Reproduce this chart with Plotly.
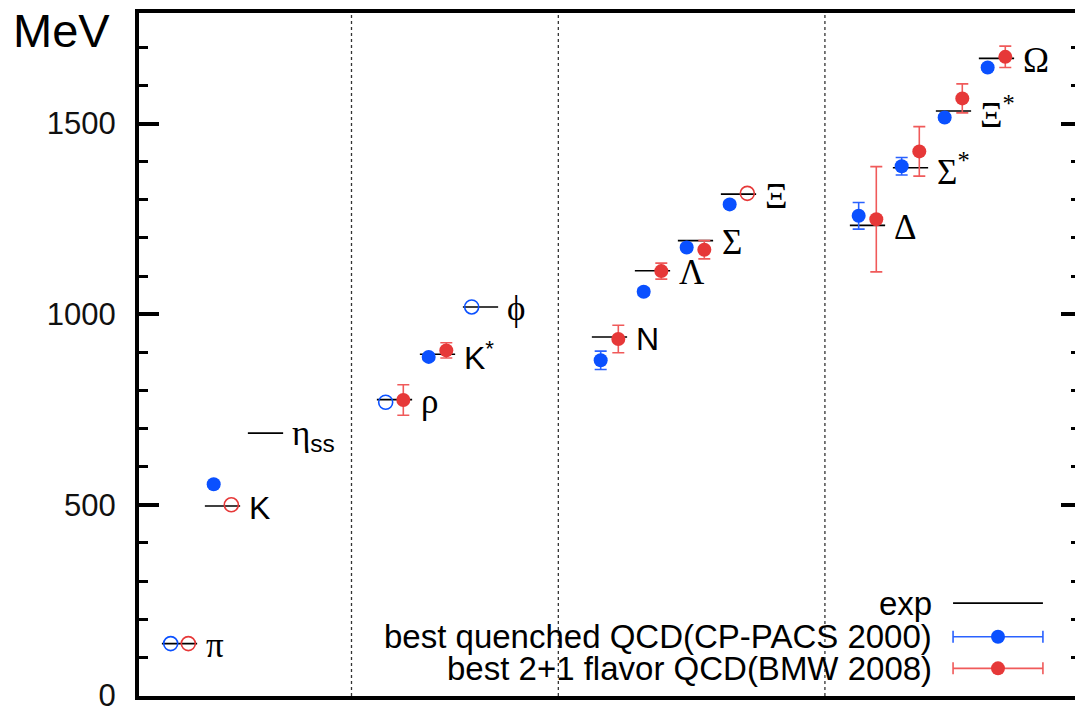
import plotly.graph_objects as go

# ---------------- data ----------------
labels = ["π", "K", "η<span style=\"font-family:'Liberation Sans'\"><sub>ss</sub></span>", "ρ",
          "K<sup>*</sup>", "ϕ", "N", "Λ", "Σ", "Ξ", "Δ", "Σ<sup>*</sup>", "Ξ<sup>*</sup>", "Ω"]
label_serif = [True, False, True, True, False, True, False, True, True, True, True, True, True, True]

exp_mass = [136, 497, 688, 776, 895, 1019, 940, 1114, 1193, 1315, 1233, 1384, 1533, 1671]

quenched_mass = [136, 554, None, 769, 888, 1019, 879, 1059, 1175, 1288, 1258, 1388, 1516, 1647]
quenched_err = [0, 7, None, 0, 7, 0, 24, 9, 8, 8, 35, 23, 7, 7]
quenched_input = [True, False, None, True, False, True, False, False, False, False, False, False, False, False]

bmw_mass = [136, 500, None, 775, 905, None, 935, 1113, 1169, 1317, 1249, 1427, 1566, 1675]
bmw_err = [0, 0, None, 40, 20, None, 36, 21, 24, 0, 138, 65, 38, 28]
bmw_input = [True, True, None, False, False, None, False, False, False, True, False, False, False, False]

legend_names = ["exp", "best quenched QCD(CP-PACS 2000)", "best 2+1 flavor QCD(BMW 2008)"]

tick_vals = [0, 500, 1000, 1500]
tick_text = ["0", "500", "1000", "1500"]

# ---------------- layout helpers ----------------
slots = [0, 1, 2, 5, 6, 7, 10, 11, 12, 13, 16, 17, 18, 19]
dividers = [4.0, 8.81, 15.01]
BLUE = "#0a50ff"
BLUE_ERR = "#2a62ff"
RED = "#e63838"
RED_ERR = "#f05a5a"
SANS = "Liberation Sans, Arial, sans-serif"
SERIF = "Liberation Serif, Times New Roman, serif"
HALF = 0.41
OFF = 0.205

fig = go.Figure()

# experimental lines
ex, ey = [], []
for s, m in zip(slots, exp_mass):
    ex += [s - HALF, s + HALF, None]
    ey += [m, m, None]
fig.add_trace(go.Scatter(x=ex, y=ey, mode="lines", line=dict(color="black", width=1.6),
                         hoverinfo="skip", showlegend=False))


def add_series(masses, errs, inputs, dx, color, ecolor):
    fx, fy, fe, ox, oy = [], [], [], [], []
    for s, m, e, inp in zip(slots, masses, errs, inputs):
        if m is None:
            continue
        if inp:
            ox.append(s + dx)
            oy.append(m)
        else:
            fx.append(s + dx)
            fy.append(m)
            fe.append(e)
    fig.add_trace(go.Scatter(
        x=fx, y=fy, mode="markers",
        marker=dict(symbol="circle", size=14, color=color, line=dict(width=0)),
        error_y=dict(type="data", array=fe, visible=True, color=ecolor, thickness=1.6, width=6),
        showlegend=False, hoverinfo="skip"))
    fig.add_trace(go.Scatter(
        x=ox, y=oy, mode="markers",
        marker=dict(symbol="circle-open", size=14, color=color, line=dict(width=1.6, color=color)),
        showlegend=False, hoverinfo="skip"))


add_series(quenched_mass, quenched_err, quenched_input, -OFF, BLUE, BLUE_ERR)
add_series(bmw_mass, bmw_err, bmw_input, OFF, RED, RED_ERR)

# particle labels
for s, m, lab, serif in zip(slots, exp_mass, labels, label_serif):
    fig.add_annotation(x=s + 0.56, y=m, xref="x", yref="y", text=lab, showarrow=False,
                       xanchor="left", yanchor="middle", yshift=-2,
                       font=dict(family=SERIF if serif else SANS, size=35 if serif else 32,
                                 color="black"))

# dividers
for d in dividers:
    fig.add_shape(type="line", xref="x", yref="paper", x0=d, x1=d, y0=0, y1=1,
                  line=dict(color="#333333", width=1.3, dash="dot"))

# manual legend (text left, sample right)
leg_y = [242, 154, 71]
leg_x0, leg_x1 = 17.99, 20.08
leg_c = (leg_x0 + leg_x1) / 2
for name, yy in zip(legend_names, leg_y):
    fig.add_annotation(x=17.55, y=yy, xref="x", yref="y", text=name, showarrow=False,
                       xanchor="right", yanchor="middle",
                       font=dict(family=SANS, size=33, color="black"))
fig.add_trace(go.Scatter(x=[leg_x0, leg_x1], y=[leg_y[0], leg_y[0]], mode="lines",
                         line=dict(color="black", width=1.6), showlegend=False, hoverinfo="skip"))
for yy, c, ec in [(leg_y[1], BLUE, BLUE_ERR), (leg_y[2], RED, RED_ERR)]:
    fig.add_trace(go.Scatter(x=[leg_c], y=[yy], mode="markers",
                             marker=dict(size=14, color=c),
                             error_x=dict(type="data", array=[leg_c - leg_x0], color=ec,
                                          thickness=1.6, width=6),
                             showlegend=False, hoverinfo="skip"))

# invisible trace for right axis
fig.add_trace(go.Scatter(x=[0], y=[0], yaxis="y2", mode="markers",
                         marker=dict(opacity=0), showlegend=False, hoverinfo="skip"))

# MeV label
fig.add_annotation(x=0, y=0.975, xref="paper", yref="paper", text="MeV", showarrow=False,
                   xanchor="right", yanchor="middle", xshift=-27,
                   font=dict(family=SANS, size=47, color="black"))

YR = [-1.5, 1790]
fig.update_layout(
    width=1075, height=713,
    margin=dict(l=139, r=0, t=13, b=11),
    paper_bgcolor="white", plot_bgcolor="white",
    showlegend=False,
    xaxis=dict(range=[-0.942, 20.826], showgrid=False, zeroline=False, showticklabels=False,
               ticks="", showline=True, linewidth=4, linecolor="black", mirror=True),
    yaxis=dict(range=YR, showgrid=False, zeroline=False, tickmode="array",
               tickvals=tick_vals, ticktext=tick_text,
               ticks="inside", ticklen=20, tickwidth=4, tickcolor="black",
               ticklabelstandoff=13, ticklabeloverflow="allow",
               minor=dict(dtick=100, tick0=0, ticks="inside", ticklen=9, tickwidth=3,
                          tickcolor="black", showgrid=False),
               showline=True, linewidth=4, linecolor="black",
               tickfont=dict(family=SANS, size=31, color="#111111")),
    yaxis2=dict(range=YR, overlaying="y", side="right", anchor="x", showgrid=False,
                zeroline=False, showticklabels=False, tickmode="array",
                tickvals=tick_vals,
                ticks="inside", ticklen=14, tickwidth=4, tickcolor="black",
                minor=dict(dtick=100, tick0=0, ticks="inside", ticklen=4, tickwidth=3,
                           tickcolor="black", showgrid=False),
                showline=False),
)

fig.write_html("out.html")
